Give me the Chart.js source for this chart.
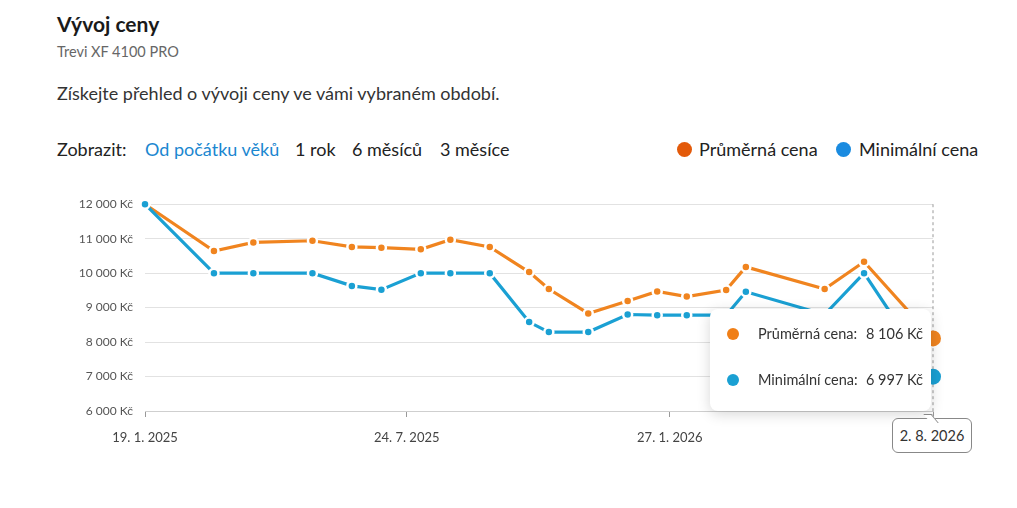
<!DOCTYPE html>
<html lang="cs">
<head>
<meta charset="utf-8">
<title>Vývoj ceny</title>
<script src="https://cdn.jsdelivr.net/npm/chart.js@4"></script>
<style>
  body { margin: 0; width: 1017px; height: 508px; background: #fff; font-family: Lato, sans-serif; color: #222; position: relative; overflow: hidden; }
  .abs { position: absolute; white-space: nowrap; }
  #title { left: 57px; top: 10px; font-size: 21px; font-weight: 700; line-height: 28px; color: #1a1a1a; }
  #subtitle { left: 57px; top: 43px; font-size: 14.5px; line-height: 18px; color: #666; }
  #intro { left: 57px; top: 82px; font-size: 18px; line-height: 22px; color: #333; }
  #filters { left: 57px; top: 138px; font-size: 18px; line-height: 22px; color: #222; }
  #filters span, #legend span { position: absolute; top: 0; }
  #filters .on { color: #1b87d0; }
  #legend { left: 0; top: 138px; font-size: 18px; line-height: 22px; color: #222; }
  #legend .dot { top: 4px; width: 15px; height: 15px; border-radius: 50%; }
  #chartBox { left: 0; top: 185px; width: 1017px; height: 275px; }
  #tip { display: none; width: 221px; height: 102px; background: #fff; border-radius: 8px; box-shadow: 0 3px 14px rgba(0,0,0,0.16); font-size: 14.5px; color: #333; }
  #tip .row { position: absolute; left: 0; width: 100%; height: 20px; line-height: 20px; }
  #tip .dot { position: absolute; left: 17px; top: 4px; width: 12px; height: 12px; border-radius: 50%; }
  #tip .lbl { position: absolute; left: 48px; }
  #tip .val { position: absolute; left: 156px; }
  #dateBox { display: none; width: 78px; height: 33px; border: 1px solid #888; border-radius: 6px; background: #fff; font-size: 14.5px; line-height: 33px; text-align: center; color: #333; }
  #dateBox::before { content: ""; position: absolute; right: 36px; top: -5px; width: 7px; height: 8px; background: #fff; border-right: 1px solid #888; border-top: 1px solid #888; transform: skewX(40deg); }
</style>
</head>
<body>
<div class="abs" id="title">Vývoj ceny</div>
<div class="abs" id="subtitle">Trevi XF 4100 PRO</div>
<div class="abs" id="intro">Získejte přehled o vývoji ceny ve vámi vybraném období.</div>
<div class="abs" id="filters">
  <span style="left:0">Zobrazit:</span>
  <span class="on" style="left:88px">Od počátku věků</span>
  <span style="left:238px">1 rok</span>
  <span style="left:295px">6 měsíců</span>
  <span style="left:383px">3 měsíce</span>
</div>
<div class="abs" id="legend">
  <span class="dot" style="left:677px;background:#e35a0a"></span><span style="left:699px">Průměrná cena</span>
  <span class="dot" style="left:836px;background:#1a8be0"></span><span style="left:859px">Minimální cena</span>
</div>
<div class="abs" id="chartBox"><canvas id="priceChart"></canvas></div>
<div class="abs" id="tip">
  <div class="row" style="top:15px"><span class="dot" style="background:#f07f17"></span><span class="lbl">Průměrná cena:</span><span class="val" id="tipAvg"></span></div>
  <div class="row" style="top:61px"><span class="dot" style="background:#1aa0d3"></span><span class="lbl">Minimální cena:</span><span class="val" id="tipMin"></span></div>
</div>
<div class="abs" id="dateBox"></div>

<script>
// --- Data ---
const dates = [
  "2025-01-19", "2025-03-09", "2025-04-06", "2025-05-18", "2025-06-15",
  "2025-07-06", "2025-08-03", "2025-08-24", "2025-09-21", "2025-10-19",
  "2025-11-02", "2025-11-30", "2025-12-28", "2026-01-18", "2026-02-08",
  "2026-03-08", "2026-03-22", "2026-05-17", "2026-06-14", "2026-08-02"
];
const avgPrice = [12000, 10640, 10890, 10940, 10760, 10740, 10690, 10970, 10760, 10030,
                  9540, 8830, 9190, 9470, 9320, 9510, 10180, 9540, 10330, 8106];
const minPrice = [12000, 10000, 10000, 10000, 9630, 9520, 10000, 10000, 10000, 8580,
                  8290, 8290, 8800, 8780, 8780, 8780, 9460, 8800, 10000, 6997];
const tickDates = ["2025-01-19", "2025-07-24", "2026-01-27", "2026-08-02"];
const tickLabels = ["19. 1. 2025", "24. 7. 2025", "27. 1. 2026", "2. 8. 2026"];

const ORANGE = "#f0841f";
const BLUE = "#1aa0d3";

// --- Helpers ---
const startDate = Date.parse(dates[0]);
const dayOf = d => Math.round((Date.parse(d) - startDate) / 86400000);
const formatKc = v => String(Math.round(v)).replace(/\B(?=(\d{3})+(?!\d))/g, " ") + " Kč";
const formatDate = d => {
  const [y, m, dd] = d.split("-").map(Number);
  return dd + ". " + m + ". " + y;
};

const days = dates.map(dayOf);
const tickDays = tickDates.map(dayOf);
const toPoints = arr => arr.map((v, i) => ({ x: days[i], y: v }));

// --- Tooltip (HTML) ---
const tipEl = document.getElementById("tip");
const dateEl = document.getElementById("dateBox");
const chartBox = document.getElementById("chartBox");

function renderTooltip({ chart, tooltip }) {
  if (tooltip.opacity === 0 || !tooltip.dataPoints || !tooltip.dataPoints.length) {
    tipEl.style.display = "none";
    dateEl.style.display = "none";
    return;
  }
  const idx = tooltip.dataPoints[0].dataIndex;
  document.getElementById("tipAvg").textContent = formatKc(avgPrice[idx]);
  document.getElementById("tipMin").textContent = formatKc(minPrice[idx]);
  const ox = chartBox.offsetLeft, oy = chartBox.offsetTop;
  const x = ox + tooltip.caretX;
  const y = oy + tooltip.caretY;
  tipEl.style.display = "block";
  tipEl.style.left = (x - 223) + "px";
  tipEl.style.top = (y - 49) + "px";
  dateEl.textContent = formatDate(dates[idx]);
  dateEl.style.display = "block";
  dateEl.style.left = (x - 41) + "px";
  dateEl.style.top = (oy + chart.chartArea.bottom + 7) + "px";
}

// --- Crosshair ---
const crosshair = {
  id: "crosshair",
  beforeDatasetsDraw(chart) {
    const act = chart.getActiveElements();
    if (!act.length) return;
    const x = act[0].element.x;
    const ctx = chart.ctx;
    ctx.save();
    ctx.strokeStyle = "#9a9a9a";
    ctx.lineWidth = 1;
    ctx.setLineDash([3, 3]);
    ctx.beginPath();
    ctx.moveTo(x, chart.chartArea.top);
    ctx.lineTo(x, chart.chartArea.bottom + 8);
    ctx.stroke();
    ctx.restore();
  }
};

// --- Chart ---
Chart.defaults.font.family = "Lato, sans-serif";
Chart.defaults.color = "#555";

const lineStyle = color => ({
  borderColor: color,
  backgroundColor: color,
  borderWidth: 3.2,
  pointRadius: 4.5,
  pointBorderWidth: 2.5,
  pointBorderColor: "#fff",
  pointBackgroundColor: color,
  pointHoverRadius: 8,
  pointHoverBorderWidth: 0,
  pointHoverBackgroundColor: color,
  tension: 0,
  clip: false
});

const chart = new Chart(document.getElementById("priceChart"), {
  type: "line",
  data: {
    datasets: [
      { label: "Minimální cena", data: toPoints(minPrice), ...lineStyle(BLUE) },
      { label: "Průměrná cena", data: toPoints(avgPrice), ...lineStyle(ORANGE) }
    ]
  },
  options: {
    responsive: true,
    maintainAspectRatio: false,
    animation: false,
    events: [],
    layout: { padding: { top: 16, right: 84, left: 0, bottom: 0 } },
    interaction: { mode: "index", intersect: false },
    plugins: {
      legend: { display: false },
      tooltip: { enabled: false, external: renderTooltip }
    },
    scales: {
      x: {
        type: "linear",
        min: 0,
        max: days[days.length - 1],
        afterBuildTicks: scale => { scale.ticks = tickDays.map(v => ({ value: v })); },
        afterFit: scale => { scale.height = 49; },
        ticks: {
          autoSkip: false,
          maxRotation: 0,
          padding: 13,
          color: "#444",
          font: { size: 13 },
          callback: (v, i) => (i === tickLabels.length - 1 ? "" : tickLabels[i])
        },
        grid: { drawOnChartArea: false, drawTicks: true, tickLength: 6, color: "#999" },
        border: { display: true, color: "#cfcfcf" }
      },
      y: {
        min: 6000,
        max: 12000,
        afterFit: scale => { scale.width = 145; },
        ticks: {
          stepSize: 1000,
          padding: 12,
          color: "#555",
          font: { size: 12 },
          callback: v => formatKc(v)
        },
        grid: { color: "#e2e2e2", drawTicks: false },
        border: { display: false }
      }
    }
  },
  plugins: [crosshair]
});

// --- Show last point as hovered ---
const last = dates.length - 1;
const active = [{ datasetIndex: 0, index: last }, { datasetIndex: 1, index: last }];
chart.tooltip.setActiveElements(active, { x: 0, y: 0 });
chart.setActiveElements(active);
chart.render();
</script>
</body>
</html>
